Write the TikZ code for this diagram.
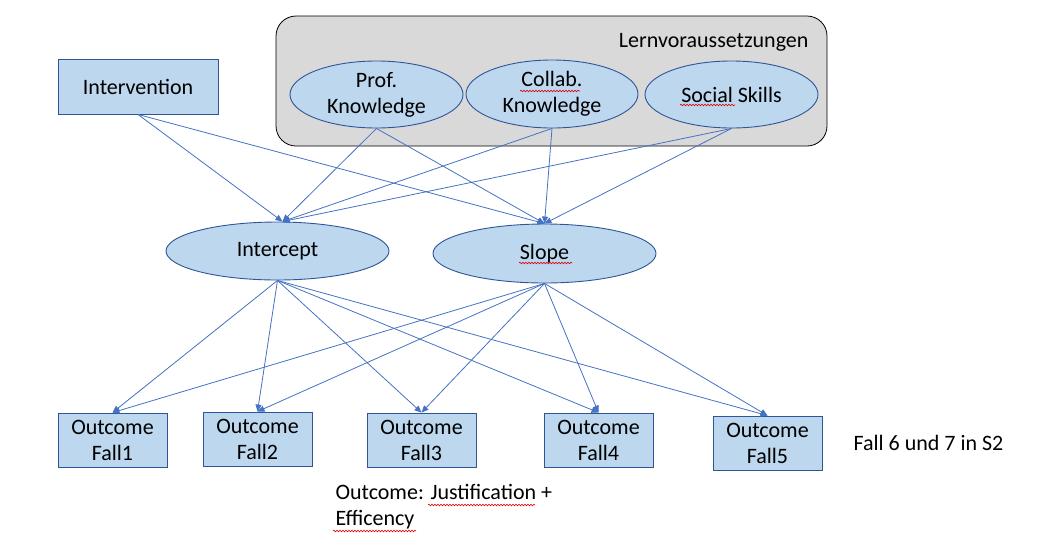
\documentclass[tikz,border=0pt]{standalone}
\usepackage{fontspec}
\setmainfont{Carlito}
\usetikzlibrary{arrows.meta}
\usetikzlibrary{shapes.geometric}
\usetikzlibrary{decorations.pathmorphing}
\tikzset{box/.style = {draw=mborder, fill=mfill, line width=0.9pt, rectangle,
                       inner sep=0, align=center}}
\tikzset{oval/.style = {draw=mborder, fill=mfill, line width=0.9pt, ellipse,
                        inner sep=-2pt, align=center}}
\tikzset{arr/.style = {draw=mline, line width=0.8pt, -{Triangle[length=7pt, width=6pt]}}}
\tikzset{squiggle/.style = {draw=red!85!black, line width=0.6pt, decorate,
                            decoration={snake, amplitude=0.8pt, segment length=3pt}}}
\definecolor{mfill}{HTML}{BDD7EE}
\definecolor{mborder}{HTML}{2F5597}
\definecolor{mline}{HTML}{4472C4}
\definecolor{mgray}{HTML}{D9D9D9}

\begin{document}
\begin{tikzpicture}[x=1pt, y=-1pt, font=\fontsize{22}{26}\selectfont]
    \useasboundingbox (0,0) rectangle (1038,539);
    \node [draw, fill=mgray, line width=0.8pt, rounded corners=20,
           minimum width=551, minimum height=130] (lern) at (551.5,81) {};
    \node [anchor=east] (lerntitle) at (812,42) {Lernvoraussetzungen};
    \node [oval, minimum width=173, minimum height=67] (prof) at (376.5,94.5) {Prof.\\Knowledge};
    \node [oval, minimum width=172, minimum height=68] (collab) at (552,94) {Collab.\\Knowledge};
    \node [oval, minimum width=173, minimum height=67] (social) at (731.5,94.5) {Social Skills};
    \node [box, minimum width=160, minimum height=55] (interv) at (138,86.5) {Intervention};
    \node [oval, minimum width=223, minimum height=58] (icpt) at (277.5,251) {Intercept};
    \node [oval, minimum width=223, minimum height=59] (slope) at (544.5,253.5) {Slope};
    \foreach \i/\x/\y in {1/112.5/440, 2/257.5/439, 3/421.5/440, 4/598.5/440, 5/767.5/443} {
      \node [box, minimum width=109, minimum height=54] (fall\i) at (\x,\y) {Outcome\\Fall\i};
    }
    \node [anchor=west] (fallnote) at (850,443) {Fall 6 und 7 in S2};
    \node [anchor=west, align=left] (outnote) at (332,507) {Outcome: Justification +\\Efficency};
    \foreach \src in {interv, prof, collab, social} {
      \draw [arr] (\src.south) -- ([xshift=5pt]icpt.north);
      \draw [arr] (\src.south) -- (slope.north);
    }
    \foreach \i in {1,...,5} {
      \draw [arr] (icpt.south) -- (fall\i.north);
      \draw [arr] (slope.south) -- (fall\i.north);
    }
    % spell-check marks
    \draw [squiggle] (520,91) -- (580,91);
    \draw [squiggle] (680,105) -- (735,105);
    \draw [squiggle] (519,263) -- (572,263);
    \draw [squiggle] (428,505) -- (535,505);
    \draw [squiggle] (333,531) -- (416,531);
\end{tikzpicture}
\end{document}
